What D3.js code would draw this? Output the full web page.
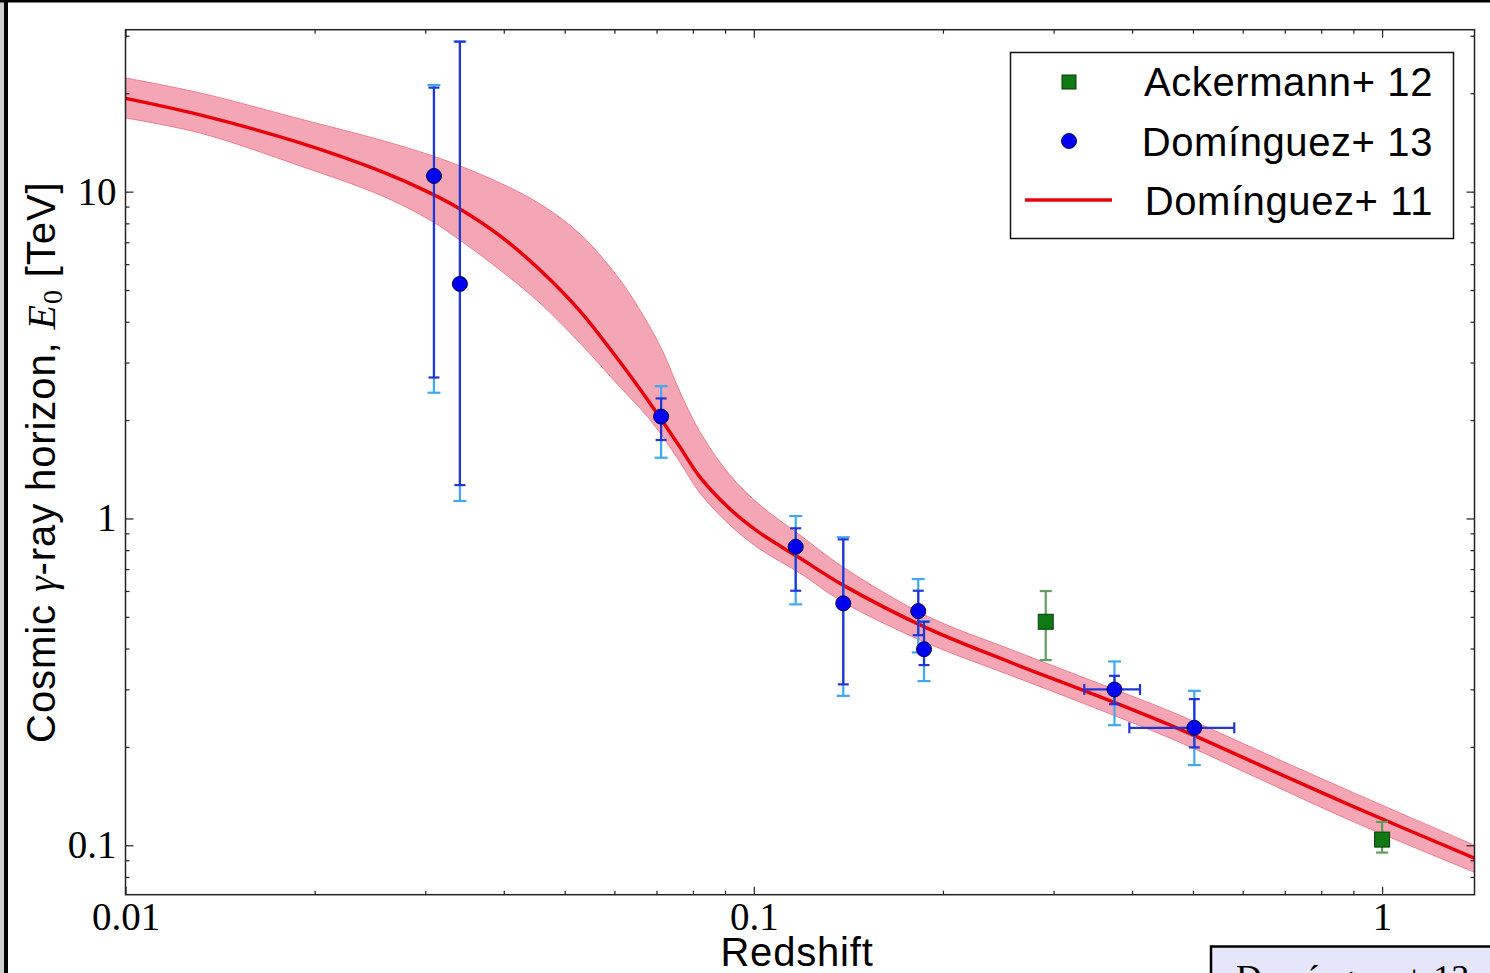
<!DOCTYPE html>
<html>
<head>
<meta charset="utf-8">
<script src="https://cdn.jsdelivr.net/npm/d3@7"></script>
<style>
  body { margin: 0; background: #fff; }
  .tick text { font-family: "Liberation Serif", "Times New Roman", serif; font-size: 39px; fill: #000; }
  .tick line { stroke: #222; stroke-width: 1.2; }
  .sans { font-family: "Liberation Sans", Arial, sans-serif; }
  .serif { font-family: "Liberation Serif", "Times New Roman", serif; }
</style>
</head>
<body>
<svg width="1490" height="973"></svg>
<script>
// Domínguez+ 11 model: cosmic gamma-ray horizon vs redshift (centre and band edges)
var curveZ    = [0.01, 0.01314, 0.01896, 0.02542, 0.03051, 0.03406, 0.03946, 0.04568, 0.05290, 0.06124, 0.06761, 0.07170, 0.07628, 0.08210, 0.09164, 0.1023, 0.1184, 0.1387, 0.1887, 0.2557, 0.3467, 0.4718, 0.6392, 0.889, 1.403];
var curveE    = [19.29, 17.17, 14.10, 11.57, 9.91, 8.85, 7.32, 5.76, 4.31, 3.01, 2.32, 1.972, 1.654, 1.338, 1.069, 0.902, 0.7566, 0.6253, 0.4618, 0.3634, 0.2901, 0.2283, 0.1759, 0.1327, 0.0913];
var curveLow  = [16.81, 15.12, 11.99, 9.77, 8.19, 7.11, 5.76, 4.56, 3.44, 2.525, 2.058, 1.775, 1.488, 1.196, 0.954, 0.8055, 0.6806, 0.5546, 0.4155, 0.3317, 0.2647, 0.2083, 0.1594, 0.1193, 0.0827];
var curveHigh = [22.28, 20.05, 16.69, 14.40, 12.95, 11.99, 10.63, 9.17, 7.42, 5.37, 3.99, 3.23, 2.44, 1.838, 1.357, 1.099, 0.8897, 0.7099, 0.5026, 0.3982, 0.3178, 0.2519, 0.1941, 0.1464, 0.100];

// Domínguez+ 13 measurements (stat and total errors)
var domZ      = [0.03097, 0.03406, 0.0712, 0.1166, 0.1388, 0.1827, 0.1866, 0.375, 0.5025];
var domE      = [11.17, 5.22, 2.05, 0.819, 0.550, 0.5207, 0.3981, 0.2998, 0.2288];
var domStatLo = [2.70, 1.265, 1.738, 0.601, 0.3107, 0.4395, 0.356, 0.2703, 0.1993];
var domStatHi = [20.81, 28.78, 2.33, 0.933, 0.863, 0.601, 0.483, 0.330, 0.2801];
var domTotLo  = [2.425, 1.131, 1.534, 0.546, 0.2866, 0.389, 0.318, 0.2331, 0.1759];
var domTotHi  = [21.2, 28.78, 2.54, 1.017, 0.876, 0.6524, 0.485, 0.3652, 0.2969];
var domZLo    = [null, null, null, null, null, null, null, 0.3357, 0.396];
var domZHi    = [null, null, null, null, null, null, null, 0.4118, 0.5817];

// Ackermann+ 12 measurements
var ackZ  = [0.2915, 1.0];
var ackE  = [0.483, 0.1041];
var ackLo = [0.3687, 0.0950];
var ackHi = [0.5997, 0.1179];

var xMajor = [0.01, 0.1, 1];
var xLabels = ['0.01', '0.1', '1'];
var yMajor = [0.1, 1, 10];
var yLabels = ['0.1', '1', '10'];

var svg = d3.select('svg');
var pad = {l: 125.5, r: 1474.5, t: 29.7, b: 894.7};

svg.append('rect').attr('width', 1490).attr('height', 973).attr('fill', '#fff');

var x = d3.scaleLog().domain([0.01, 1.403]).range([pad.l, pad.r]);
var y = d3.scaleLog().domain([0.0706, 31.3]).range([pad.b, pad.t]);

// minor tick values from the scale
var xMinor = x.ticks(20).filter(function(d){ return xMajor.indexOf(d) < 0; });
var yMinor = y.ticks(20).filter(function(d){ return yMajor.indexOf(d) < 0; });

svg.append('clipPath').attr('id', 'plotClip')
    .append('rect').attr('x', pad.l).attr('y', pad.t)
    .attr('width', pad.r - pad.l).attr('height', pad.b - pad.t);

var plot = svg.append('g').attr('clip-path', 'url(#plotClip)');

var curve = curveZ.map(function(z, i){
    return {z: z, e: curveE[i], lo: curveLow[i], hi: curveHigh[i]};
});

plot.append('path')
    .datum(curve)
    .attr('fill', '#f5a6b5')
    .attr('stroke', '#ec7d92')
    .attr('stroke-width', 1)
    .attr('d', d3.area()
        .x(function(d){ return x(d.z); })
        .y0(function(d){ return y(d.lo); })
        .y1(function(d){ return y(d.hi); })
        .curve(d3.curveCatmullRom.alpha(0.5)));

plot.append('path')
    .datum(curve)
    .attr('fill', 'none')
    .attr('stroke', '#e8000b')
    .attr('stroke-width', 3.5)
    .attr('d', d3.line()
        .x(function(d){ return x(d.z); })
        .y(function(d){ return y(d.e); })
        .curve(d3.curveCatmullRom.alpha(0.5)));

// error bar helpers
function vbar(g, xv, lo, hi, color, capW, width) {
    var px = x(xv);
    g.append('line').attr('x1', px).attr('x2', px).attr('y1', y(lo)).attr('y2', y(hi))
        .attr('stroke', color).attr('stroke-width', width);
    [lo, hi].forEach(function(v){
        g.append('line').attr('x1', px - capW / 2).attr('x2', px + capW / 2)
            .attr('y1', y(v)).attr('y2', y(v))
            .attr('stroke', color).attr('stroke-width', width);
    });
}
function hbar(g, yv, lo, hi, color, capH, width) {
    var py = y(yv);
    g.append('line').attr('x1', x(lo)).attr('x2', x(hi)).attr('y1', py).attr('y2', py)
        .attr('stroke', color).attr('stroke-width', width);
    [lo, hi].forEach(function(v){
        g.append('line').attr('x1', x(v)).attr('x2', x(v))
            .attr('y1', py - capH / 2).attr('y2', py + capH / 2)
            .attr('stroke', color).attr('stroke-width', width);
    });
}

var bars = svg.append('g');
ackZ.forEach(function(z, i){
    vbar(bars, z, ackLo[i], ackHi[i], '#5f9e5f', 12, 2.2);
});
domZ.forEach(function(z, i){
    vbar(bars, z, domTotLo[i], domTotHi[i], '#3fa9f0', 13, 2.2);
});
domZ.forEach(function(z, i){
    vbar(bars, z, domStatLo[i], domStatHi[i], '#2236d6', 11, 2.2);
    if (domZLo[i] !== null) hbar(bars, domE[i], domZLo[i], domZHi[i], '#2236d6', 11, 2.2);
});

svg.append('g').selectAll('rect')
    .data(ackZ)
    .enter().append('rect')
    .attr('x', function(d){ return x(d) - 7.5; })
    .attr('y', function(d, i){ return y(ackE[i]) - 7.5; })
    .attr('width', 15).attr('height', 15)
    .attr('fill', '#0f7a14').attr('stroke', '#063b08').attr('stroke-width', 1);

svg.append('g').selectAll('circle')
    .data(domZ)
    .enter().append('circle')
    .attr('cx', function(d){ return x(d); })
    .attr('cy', function(d, i){ return y(domE[i]); })
    .attr('r', 7.5)
    .attr('fill', '#0000f0').attr('stroke', '#00004a').attr('stroke-width', 1);

// axes, ticks inside on all four sides
function fmt(list, labels) {
    return function(d){ var k = list.indexOf(d); return k >= 0 ? labels[k] : ''; };
}
svg.append('g').attr('transform', 'translate(0,' + pad.b + ')')
    .call(d3.axisBottom(x).tickValues(xMajor).tickFormat(fmt(xMajor, xLabels)).tickSizeInner(-8).tickSizeOuter(0).tickPadding(8));
svg.append('g').attr('transform', 'translate(0,' + pad.b + ')')
    .call(d3.axisBottom(x).tickValues(xMinor).tickFormat('').tickSizeInner(-4).tickSizeOuter(0));
svg.append('g').attr('transform', 'translate(0,' + pad.t + ')')
    .call(d3.axisTop(x).tickValues(xMajor).tickFormat('').tickSizeInner(-8).tickSizeOuter(0));
svg.append('g').attr('transform', 'translate(0,' + pad.t + ')')
    .call(d3.axisTop(x).tickValues(xMinor).tickFormat('').tickSizeInner(-4).tickSizeOuter(0));
svg.append('g').attr('transform', 'translate(' + pad.l + ',0)')
    .call(d3.axisLeft(y).tickValues(yMajor).tickFormat(fmt(yMajor, yLabels)).tickSizeInner(-8).tickSizeOuter(0).tickPadding(9));
svg.append('g').attr('transform', 'translate(' + pad.l + ',0)')
    .call(d3.axisLeft(y).tickValues(yMinor).tickFormat('').tickSizeInner(-4).tickSizeOuter(0));
svg.append('g').attr('transform', 'translate(' + pad.r + ',0)')
    .call(d3.axisRight(y).tickValues(yMajor).tickFormat('').tickSizeInner(-8).tickSizeOuter(0));
svg.append('g').attr('transform', 'translate(' + pad.r + ',0)')
    .call(d3.axisRight(y).tickValues(yMinor).tickFormat('').tickSizeInner(-4).tickSizeOuter(0));
svg.selectAll('.domain').remove();

svg.append('rect')
    .attr('x', pad.l).attr('y', pad.t).attr('width', pad.r - pad.l).attr('height', pad.b - pad.t)
    .attr('fill', 'none').attr('stroke', '#222').attr('stroke-width', 1.5);

// axis titles
svg.append('text').attr('class', 'sans')
    .attr('x', (pad.l + pad.r) / 2 - 3).attr('y', 966)
    .attr('text-anchor', 'middle').attr('font-size', 40).attr('letter-spacing', 0.8)
    .text('Redshift');

var yt = svg.append('text').attr('class', 'sans')
    .attr('transform', 'translate(55,' + ((pad.t + pad.b) / 2) + ') rotate(-90)')
    .attr('text-anchor', 'middle').attr('font-size', 40).attr('letter-spacing', 0.9);
yt.append('tspan').text('Cosmic ');
yt.append('tspan').attr('class', 'serif').attr('font-style', 'italic').text('γ');
yt.append('tspan').text('-ray horizon, ');
yt.append('tspan').attr('class', 'serif').attr('font-style', 'italic').text('E');
yt.append('tspan').attr('class', 'serif').attr('font-size', 28).attr('dy', 7).text('0');
yt.append('tspan').attr('dy', -7).text(' [TeV]');

// legend
var lg = svg.append('g');
lg.append('rect').attr('x', 1010.5).attr('y', 52.5).attr('width', 443).attr('height', 186)
    .attr('fill', '#fff').attr('stroke', '#111').attr('stroke-width', 1.5);
lg.append('rect').attr('x', 1062).attr('y', 75).attr('width', 14).attr('height', 14)
    .attr('fill', '#0f7a14').attr('stroke', '#063b08').attr('stroke-width', 1);
lg.append('circle').attr('cx', 1069).attr('cy', 141).attr('r', 7.5)
    .attr('fill', '#0000f0').attr('stroke', '#00004a').attr('stroke-width', 1);
lg.append('line').attr('x1', 1025).attr('x2', 1112).attr('y1', 200).attr('y2', 200)
    .attr('stroke', '#e8000b').attr('stroke-width', 3.5);
var legendText = ['Ackermann+ 12', 'Domínguez+ 13', 'Domínguez+ 11'];
var legendY = [96, 156, 215];
legendText.forEach(function(t, i){
    lg.append('text').attr('class', 'sans').attr('x', 1433).attr('y', legendY[i])
        .attr('text-anchor', 'end').attr('font-size', 40).attr('letter-spacing', 0.6).text(t);
});

// cut-off note box at bottom right
svg.append('rect').attr('x', 1211).attr('y', 946.5).attr('width', 300).attr('height', 60)
    .attr('fill', '#e6e6fa').attr('stroke', '#000').attr('stroke-width', 2.5);
svg.append('text').attr('class', 'serif').attr('x', 1236).attr('y', 990)
    .attr('font-size', 36).text('Domínguez+ 13');

// outer frame
svg.append('rect').attr('x', 0).attr('y', 0).attr('width', 4).attr('height', 973).attr('fill', '#cfcfcf');
svg.append('rect').attr('x', 4).attr('y', 0).attr('width', 4).attr('height', 973).attr('fill', '#000');
svg.append('rect').attr('x', 0).attr('y', 0).attr('width', 1490).attr('height', 2.5).attr('fill', '#000');
</script>
</body>
</html>
